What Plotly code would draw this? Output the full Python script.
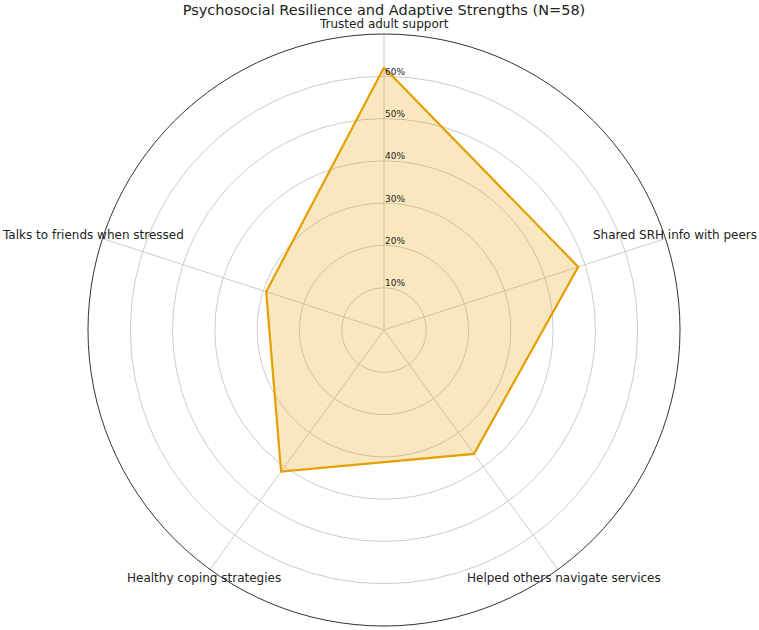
import math
import plotly.graph_objects as go

categories = ["Trusted adult support", "Shared SRH info with peers",
              "Helped others navigate services", "Healthy coping strategies",
              "Talks to friends when stressed"]
values = [62.1, 48.3, 36.2, 41.4, 29.3]
tick_vals = [10, 20, 30, 40, 50, 60]
tick_text = ["10%", "20%", "30%", "40%", "50%", "60%"]

r = values + values[:1]
theta = categories + categories[:1]

fig = go.Figure()
fig.add_trace(go.Scatterpolar(
    r=r, theta=theta, mode="lines", fill="toself",
    fillcolor="rgba(230,159,0,0.25)",
    line=dict(color="#E69F00", width=2.2),
    hoverinfo="skip", showlegend=False,
))

W, H = 759, 630
cx, cy, R = 384, 330, 296
rmax = 70
label_r = 306

annotations = []
n = len(categories)
for i, cat in enumerate(categories):
    ang = math.radians(90 - 360 * i / n)
    x = cx + label_r * math.cos(ang)
    y = cy - label_r * math.sin(ang)
    annotations.append(dict(text=cat, x=x / W, y=1 - y / H, xref="paper", yref="paper",
                            xanchor="center", yanchor="middle", showarrow=False,
                            font=dict(size=12, color="#222222")))

for v, t in zip(tick_vals, tick_text):
    y = cy - v * R / rmax - 4.5
    annotations.append(dict(text=t, x=(cx - 1) / W, y=1 - y / H, xref="paper", yref="paper",
                            xanchor="left", yanchor="middle", showarrow=False,
                            font=dict(size=9, color="#222222")))

fig.update_layout(
    width=W, height=H,
    margin=dict(l=0, r=0, t=0, b=0),
    paper_bgcolor="white", plot_bgcolor="white",
    font=dict(family="DejaVu Sans", color="#222222"),
    title=dict(text="Psychosocial Resilience and Adaptive Strengths (N=58)",
               x=384 / W, xanchor="center", y=1 - 10 / H, yanchor="middle",
               font=dict(size=14.5, color="#222222")),
    annotations=annotations,
    polar=dict(
        domain=dict(x=[(cx - R) / W, (cx + R) / W], y=[1 - (cy + R) / H, 1 - (cy - R) / H]),
        bgcolor="white",
        angularaxis=dict(rotation=90, direction="clockwise",
                         showline=True, linecolor="#333333", linewidth=1,
                         gridcolor="#cccccc", gridwidth=0.8,
                         ticks="", showticklabels=False),
        radialaxis=dict(range=[0, rmax], tickvals=tick_vals, ticktext=tick_text,
                        angle=90, showticklabels=False,
                        showline=False, ticks="", gridcolor="#cccccc", gridwidth=0.8),
    ),
)
fig.write_html("out.html")
